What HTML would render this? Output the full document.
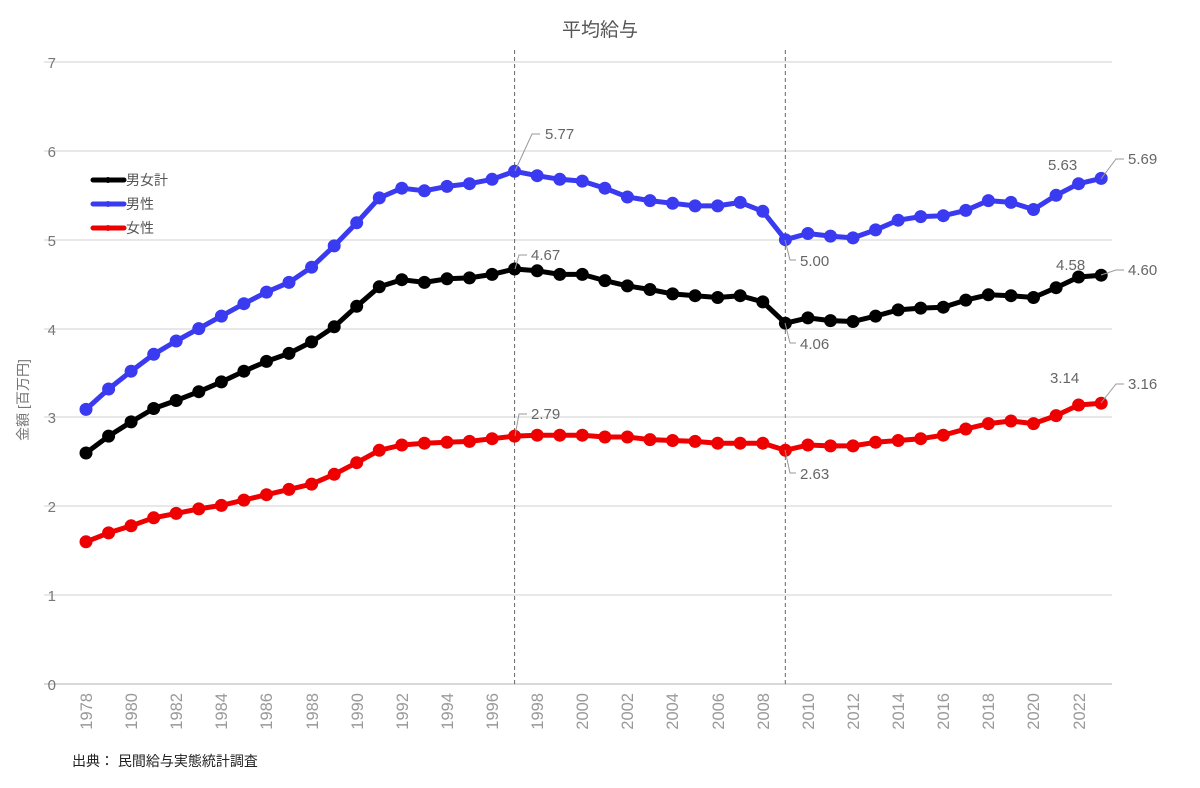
<!DOCTYPE html>
<html><head><meta charset="utf-8"><style>
body{margin:0;background:#fff;width:1200px;height:783px;overflow:hidden}
svg{font-family:"Liberation Sans","Noto Sans CJK JP",sans-serif}
</style></head><body>
<svg id="s" width="1200" height="783" xmlns="http://www.w3.org/2000/svg">
<text x="600" y="36" text-anchor="middle" font-size="19" fill="#555">平均給与</text>
<g stroke="#d9d9d9" stroke-width="1.3">
<line x1="44" x2="1112" y1="62" y2="62"/><line x1="44" x2="1112" y1="151" y2="151"/>
<line x1="44" x2="1112" y1="240" y2="240"/><line x1="44" x2="1112" y1="329" y2="329"/>
<line x1="44" x2="1112" y1="417" y2="417"/><line x1="44" x2="1112" y1="506" y2="506"/>
<line x1="44" x2="1112" y1="595" y2="595"/><line x1="44" x2="1112" y1="684" y2="684" stroke-width="2"/>
</g>
<g font-size="15" fill="#777" text-anchor="end">
<text x="56" y="68">7</text><text x="56" y="157">6</text><text x="56" y="246">5</text><text x="56" y="335">4</text>
<text x="56" y="423">3</text><text x="56" y="512">2</text><text x="56" y="601">1</text><text x="56" y="690">0</text>
</g>
<text transform="translate(28,400) rotate(-90)" text-anchor="middle" font-size="14" fill="#777">金額 [百万円]</text>
<g stroke="#666" stroke-dasharray="4,3" stroke-width="1"><line x1="514.6" x2="514.6" y1="50" y2="684"/><line x1="785.3" x2="785.3" y1="50" y2="684"/></g>
<g id="series"></g>
<g font-size="16.5" fill="#999">
<text transform="translate(92,693) rotate(-90)" text-anchor="end">1978</text>
<text transform="translate(137,693) rotate(-90)" text-anchor="end">1980</text>
<text transform="translate(182,693) rotate(-90)" text-anchor="end">1982</text>
<text transform="translate(227,693) rotate(-90)" text-anchor="end">1984</text>
<text transform="translate(272,693) rotate(-90)" text-anchor="end">1986</text>
<text transform="translate(318,693) rotate(-90)" text-anchor="end">1988</text>
<text transform="translate(363,693) rotate(-90)" text-anchor="end">1990</text>
<text transform="translate(408,693) rotate(-90)" text-anchor="end">1992</text>
<text transform="translate(453,693) rotate(-90)" text-anchor="end">1994</text>
<text transform="translate(498,693) rotate(-90)" text-anchor="end">1996</text>
<text transform="translate(543,693) rotate(-90)" text-anchor="end">1998</text>
<text transform="translate(588,693) rotate(-90)" text-anchor="end">2000</text>
<text transform="translate(633,693) rotate(-90)" text-anchor="end">2002</text>
<text transform="translate(678,693) rotate(-90)" text-anchor="end">2004</text>
<text transform="translate(724,693) rotate(-90)" text-anchor="end">2006</text>
<text transform="translate(769,693) rotate(-90)" text-anchor="end">2008</text>
<text transform="translate(814,693) rotate(-90)" text-anchor="end">2010</text>
<text transform="translate(859,693) rotate(-90)" text-anchor="end">2012</text>
<text transform="translate(904,693) rotate(-90)" text-anchor="end">2014</text>
<text transform="translate(949,693) rotate(-90)" text-anchor="end">2016</text>
<text transform="translate(994,693) rotate(-90)" text-anchor="end">2018</text>
<text transform="translate(1039,693) rotate(-90)" text-anchor="end">2020</text>
<text transform="translate(1085,693) rotate(-90)" text-anchor="end">2022</text>
</g>
<g stroke="#999" fill="none" stroke-width="1">
<polyline points="515,171 532,134 540,134"/><polyline points="515,269 519,255 527,255"/>
<polyline points="515,436 519,414 527,414"/><polyline points="785,240 790,260 796,260"/>
<polyline points="785,323 790,343 796,343"/><polyline points="785,450 790,473 796,473"/>
<polyline points="1101,179 1116,159 1124,159"/><polyline points="1101,275 1116,270 1124,270"/>
<polyline points="1101,403 1116,384 1124,384"/>
</g>
<g font-size="15" fill="#666">
<text x="545" y="139">5.77</text><text x="531" y="260">4.67</text><text x="531" y="419">2.79</text>
<text x="800" y="266">5.00</text><text x="800" y="349">4.06</text><text x="800" y="479">2.63</text>
<text x="1128" y="164">5.69</text><text x="1128" y="275">4.60</text><text x="1128" y="389">3.16</text>
<text x="1048" y="170">5.63</text><text x="1056" y="270">4.58</text><text x="1050" y="383">3.14</text>
</g>
<g font-size="14" fill="#555">
<line x1="93" x2="124" y1="180" y2="180" stroke="#000" stroke-width="5" stroke-linecap="round"/><circle cx="108" cy="180" r="3" fill="#000"/><text x="126" y="185">男女計</text>
<line x1="93" x2="124" y1="204" y2="204" stroke="#3a3af0" stroke-width="5" stroke-linecap="round"/><circle cx="108" cy="204" r="3" fill="#3a3af0"/><text x="126" y="209">男性</text>
<line x1="93" x2="124" y1="228" y2="228" stroke="#ee0000" stroke-width="5" stroke-linecap="round"/><circle cx="108" cy="228" r="3" fill="#ee0000"/><text x="126" y="233">女性</text>
</g>
<text x="72" y="766" font-size="14" fill="#222">出典： 民間給与実態統計調査</text>
</svg>
<script>
var T=[2.60,2.79,2.95,3.10,3.19,3.29,3.40,3.52,3.63,3.72,3.85,4.02,4.25,4.47,4.55,4.52,4.56,4.57,4.61,4.67,4.65,4.61,4.61,4.54,4.48,4.44,4.39,4.37,4.35,4.37,4.30,4.06,4.12,4.09,4.08,4.14,4.21,4.23,4.24,4.32,4.38,4.37,4.35,4.46,4.58,4.60];
var M=[3.09,3.32,3.52,3.71,3.86,4.00,4.14,4.28,4.41,4.52,4.69,4.93,5.19,5.47,5.58,5.55,5.60,5.63,5.68,5.77,5.72,5.68,5.66,5.58,5.48,5.44,5.41,5.38,5.38,5.42,5.32,5.00,5.07,5.04,5.02,5.11,5.22,5.26,5.27,5.33,5.44,5.42,5.34,5.50,5.63,5.69];
var F=[1.60,1.70,1.78,1.87,1.92,1.97,2.01,2.07,2.13,2.19,2.25,2.36,2.49,2.63,2.69,2.71,2.72,2.73,2.76,2.79,2.80,2.80,2.80,2.78,2.78,2.75,2.74,2.73,2.71,2.71,2.71,2.63,2.69,2.68,2.68,2.72,2.74,2.76,2.80,2.87,2.93,2.96,2.93,3.02,3.14,3.16];
var g=document.getElementById('series'),h='';
[[M,'#3a3af0'],[T,'#000'],[F,'#ee0000']].forEach(function(s){
 var p=s[0].map(function(v,i){return [86+i*22.56,684-v*88.86]});
 h+='<polyline fill="none" stroke="'+s[1]+'" stroke-width="5" stroke-linejoin="round" points="'+p.map(function(q){return q[0].toFixed(1)+','+q[1].toFixed(1)}).join(' ')+'"/>';
 p.forEach(function(q){h+='<circle cx="'+q[0].toFixed(1)+'" cy="'+q[1].toFixed(1)+'" r="6.5" fill="'+s[1]+'"/>'});
});
g.innerHTML=h;
</script>
</body></html>
